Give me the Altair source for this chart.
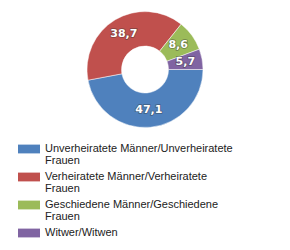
import math
import altair as alt
import pandas as pd

categories = [
    "Unverheiratete Männer/Unverheiratete Frauen",
    "Verheiratete Männer/Verheiratete Frauen",
    "Geschiedene Männer/Geschiedene Frauen",
    "Witwer/Witwen",
]
values = [47.1, 38.7, 8.6, 5.7]
value_labels = ["47,1", "38,7", "8,6", "5,7"]
colors = ["#4F81BD", "#C0504D", "#9BBB59", "#8064A2"]

df = pd.DataFrame({
    "cat": categories,
    "value": values,
    "label": value_labels,
    "order": list(range(len(categories))),
})

CX, CY = 145, 69.5

theta = alt.Theta(
    "value:Q", stack=True,
    scale=alt.Scale(range=[math.pi / 2, math.pi / 2 + 2 * math.pi]),
)

base = alt.Chart(df).encode(
    theta=theta,
    order=alt.Order("order:Q"),
    x=alt.value(CX),
    y=alt.value(CY),
)

legend = alt.Legend(
    title=None,
    orient="none",
    legendX=18,
    legendY=138,
    direction="vertical",
    symbolType="M-1,-0.4H1V0.4H-1Z",
    symbolSize=484,
    symbolStrokeWidth=0,
    symbolOpacity=1,
    labelFont="Liberation Sans",
    labelFontSize=11,
    labelColor="#222222",
    labelLimit=300,
    labelOffset=5,
    rowPadding=0,
    padding=0,
    labelExpr="indexof(datum.label, ' Frauen') > 0 ? [replace(datum.label, ' Frauen', ''), 'Frauen'] : datum.label",
)

arcs = base.mark_arc(outerRadius=58, innerRadius=23.5, stroke="white", strokeWidth=0.5).encode(
    color=alt.Color(
        "cat:N",
        scale=alt.Scale(domain=categories, range=colors),
        sort=categories,
        legend=legend,
    )
)

shadow = base.mark_text(
    radius=41, font="DejaVu Sans", fontSize=11, fontWeight="bold",
    fill="#333333", stroke="#333333", strokeWidth=1.5, opacity=0.45,
).encode(text="label:N")

text = base.mark_text(
    radius=41, font="DejaVu Sans", fontSize=11, fontWeight="bold", fill="white",
).encode(text="label:N")

chart = alt.layer(arcs, shadow, text).properties(
    width=290, height=250,
    autosize=alt.AutoSizeParams(type="none"),
    padding=0,
).configure(
    style={"guide-label": {"lineHeight": 12}}
).configure_view(stroke=None)

chart.save("out.html", embed_options={"renderer": "svg", "actions": False})
